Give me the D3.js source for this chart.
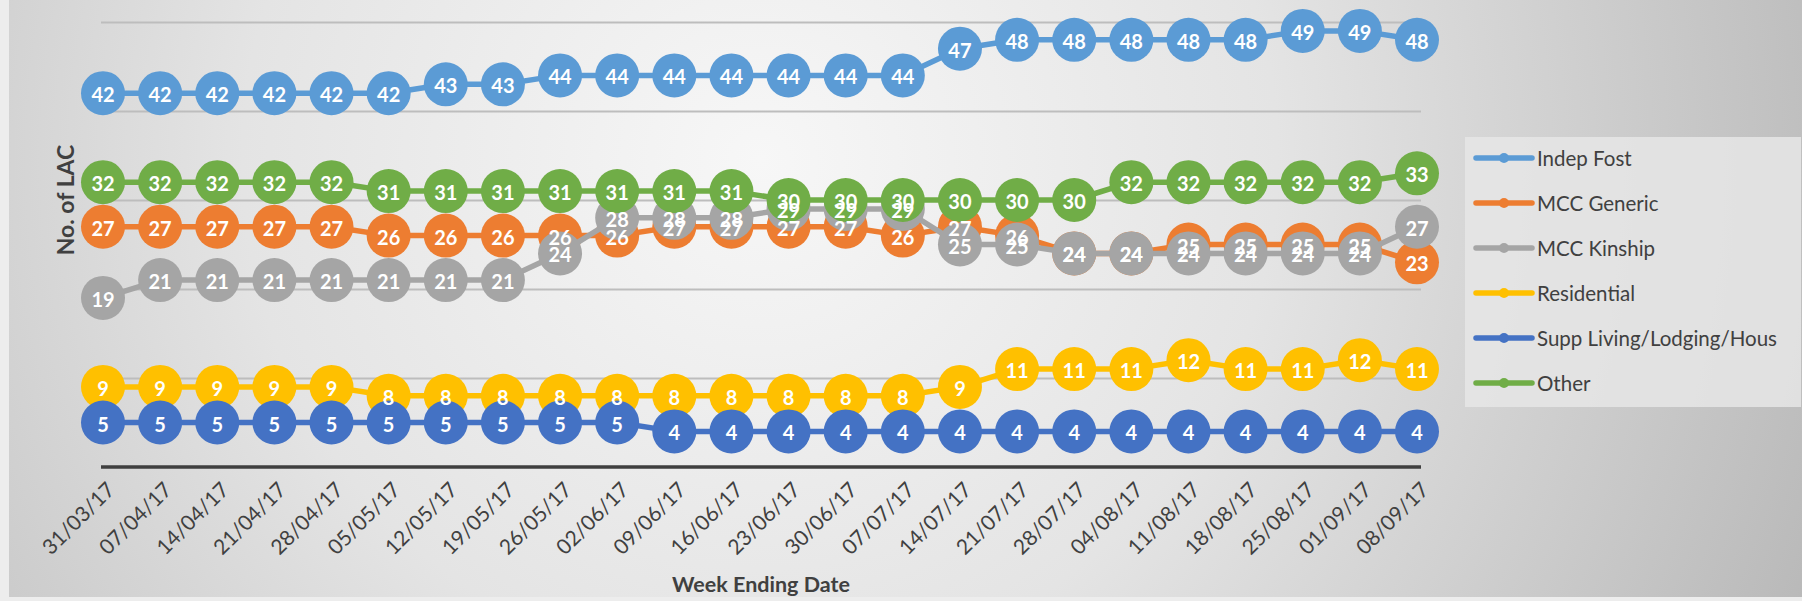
<!DOCTYPE html>
<html><head><meta charset="utf-8">
<script src="https://cdn.jsdelivr.net/npm/d3@7"></script>
<style>html,body{margin:0;padding:0;background:#ececec;overflow:hidden}svg{display:block}</style>
</head><body>
<svg id="chart" width="1802" height="601"></svg>
<script>
const weeks = ["31/03/17","07/04/17","14/04/17","21/04/17","28/04/17","05/05/17","12/05/17","19/05/17","26/05/17","02/06/17","09/06/17","16/06/17","23/06/17","30/06/17","07/07/17","14/07/17","21/07/17","28/07/17","04/08/17","11/08/17","18/08/17","25/08/17","01/09/17","08/09/17"];
const seriesNames = ["Indep Fost","MCC Generic","MCC Kinship","Residential","Supp Living/Lodging/Hous","Other"];
const indepFost  = [42,42,42,42,42,42,43,43,44,44,44,44,44,44,44,47,48,48,48,48,48,49,49,48];
const mccGeneric = [27,27,27,27,27,26,26,26,26,26,27,27,27,27,26,27,26,24,24,25,25,25,25,23];
const mccKinship = [19,21,21,21,21,21,21,21,24,28,28,28,29,29,29,25,25,24,24,24,24,24,24,27];
const residential= [9,9,9,9,9,8,8,8,8,8,8,8,8,8,8,9,11,11,11,12,11,11,12,11];
const suppLiving = [5,5,5,5,5,5,5,5,5,5,4,4,4,4,4,4,4,4,4,4,4,4,4,4];
const other      = [32,32,32,32,32,31,31,31,31,31,31,31,30,30,30,30,30,30,32,32,32,32,32,33];
const yTicks = [10,20,30,40,50];
const colors = ["#5B9BD5","#ED7D31","#A5A5A5","#FFC000","#4472C4","#70AD47"];

const seriesValues = [indepFost, mccGeneric, mccKinship, residential, suppLiving, other];
const svg = d3.select("#chart");
const W = 1802, H = 601;

// background
const defs = svg.append("defs");
const grad = defs.append("radialGradient").attr("id","bg")
  .attr("gradientUnits","userSpaceOnUse").attr("cx",760).attr("cy",160).attr("r",1150)
  .attr("fx",760).attr("fy",160);
grad.append("stop").attr("offset","0%").attr("stop-color","#f7f7f7");
grad.append("stop").attr("offset","45%").attr("stop-color","#e4e4e4");
grad.append("stop").attr("offset","100%").attr("stop-color","#b8b8b8");
svg.append("rect").attr("x",0).attr("y",0).attr("width",W).attr("height",H).attr("fill","#ededed");
svg.append("rect").attr("x",9).attr("y",0).attr("width",W-9).attr("height",597).attr("fill","url(#bg)");

const x = d3.scalePoint().domain(weeks).range([103,1417]).padding(0);
const y = d3.scaleLinear().domain([0,50]).range([467,22]);

// gridlines
const grid = svg.append("g")
  .attr("transform","translate(101,0)")
  .call(d3.axisLeft(y).tickValues(yTicks).tickSize(-(1421-101)).tickFormat(""));
grid.select(".domain").remove();
grid.selectAll(".tick line").attr("stroke","#bdbdbd").attr("stroke-width",2);

// x axis
const xAxis = svg.append("g").attr("transform",`translate(0,${y(0)})`)
  .call(d3.axisBottom(x).tickSize(0).tickFormat(""));
xAxis.select(".domain").remove();
svg.append("line").attr("x1",101).attr("x2",1421).attr("y1",y(0)).attr("y2",y(0))
  .attr("stroke","#3f3f3f").attr("stroke-width",3.5);

const labelFont = "Lato, 'Open Sans', sans-serif";
svg.append("g").selectAll("text").data(weeks).join("text")
  .attr("transform", d => `translate(${x(d)+7},${485}) rotate(-45)`)
  .attr("text-anchor","end").attr("dominant-baseline","central")
  .attr("font-family",labelFont).attr("font-size",21).attr("fill","#404040")
  .text(d => d);

// series
const line = d3.line().x((v,i)=>x(weeks[i])).y(v=>y(v));
const R = 22;
seriesValues.forEach((vals, s) => {
  const g = svg.append("g");
  g.append("path").datum(vals).attr("d",line).attr("fill","none")
    .attr("stroke",colors[s]).attr("stroke-width",5.5).attr("stroke-linejoin","round");
  g.selectAll("circle").data(vals).join("circle")
    .attr("cx",(v,i)=>x(weeks[i])).attr("cy",v=>y(v)).attr("r",R).attr("fill",colors[s]);
});
seriesValues.forEach((vals, s) => {
  svg.append("g").selectAll("text").data(vals).join("text")
    .attr("x",(v,i)=>x(weeks[i])).attr("y",v=>y(v)+1)
    .attr("text-anchor","middle").attr("dominant-baseline","central")
    .attr("font-family",labelFont).attr("font-weight","bold").attr("font-size",20)
    .attr("fill","#ffffff").text(v=>v);
});

// axis titles
svg.append("text").attr("transform","translate(65,200) rotate(-90)")
  .attr("text-anchor","middle").attr("dominant-baseline","central")
  .attr("font-family",labelFont).attr("font-weight","bold").attr("font-size",23)
  .attr("fill","#404040").text("No. of LAC");
svg.append("text").attr("x",761).attr("y",584)
  .attr("text-anchor","middle").attr("dominant-baseline","central")
  .attr("font-family",labelFont).attr("font-weight","bold").attr("font-size",21.5)
  .attr("fill","#404040").text("Week Ending Date");

// legend
const lg = svg.append("g");
lg.append("rect").attr("x",1465).attr("y",137).attr("width",336).attr("height",270)
  .attr("fill","#e6e6e6").attr("fill-opacity",0.85);
const ly = d3.scalePoint().domain(seriesNames).range([158,383]);
seriesNames.forEach((n,i) => {
  const yy = ly(n);
  lg.append("line").attr("x1",1476).attr("x2",1532).attr("y1",yy).attr("y2",yy)
    .attr("stroke",colors[i]).attr("stroke-width",5.5).attr("stroke-linecap","round");
  lg.append("circle").attr("cx",1504).attr("cy",yy).attr("r",5).attr("fill",colors[i]);
  lg.append("text").attr("x",1537).attr("y",yy).attr("dominant-baseline","central")
    .attr("font-family",labelFont).attr("font-size",20.5).attr("fill","#404040").text(n);
});
</script>
</body></html>
